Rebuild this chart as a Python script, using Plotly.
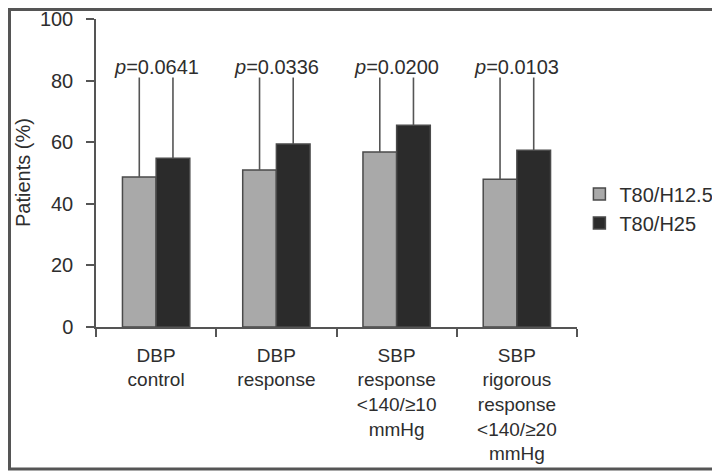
import plotly.graph_objects as go

categories = ["DBP<br>control", "DBP<br>response", "SBP<br>response<br>&lt;140/≥10<br>mmHg",
              "SBP<br>rigorous<br>response<br>&lt;140/≥20<br>mmHg"]
series_names = ["T80/H12.5", "T80/H25"]
t80_h125 = [48.7, 51.0, 56.8, 48.0]
t80_h25 = [54.8, 59.4, 65.5, 57.4]
upper_h125 = [81.0, 81.0, 81.0, 81.0]
upper_h25 = [81.0, 81.0, 81.0, 81.0]
p_values = ["0.0641", "0.0336", "0.0200", "0.0103"]
p_label_y = [84.5, 84.5, 84.5, 84.5]
y_ticks = [0, 20, 40, 60, 80, 100]
y_title = "Patients (%)"

FONT = "Liberation Sans, Arial, Helvetica, sans-serif"
TXT = "#2e2e2e"

fig = go.Figure()
for name, vals, upper, fill in [(series_names[0], t80_h125, upper_h125, "#a9a9a9"),
                                (series_names[1], t80_h25, upper_h25, "#2b2b2b")]:
    fig.add_trace(go.Bar(
        x=categories, y=vals, name=name,
        marker=dict(color=fill, line=dict(color="#4a4a4a", width=1.5)),
        error_y=dict(type="data", symmetric=False,
                     array=[u - v for u, v in zip(upper, vals)],
                     arrayminus=[0] * len(vals),
                     color="#555555", thickness=1.6, width=0),
    ))

for c, p, py in zip(categories, p_values, p_label_y):
    fig.add_annotation(x=c, y=py, xref="x", yref="y", text=f"<i>p</i>=" + p,
                       showarrow=False, yanchor="middle",
                       font=dict(family=FONT, size=20, color=TXT))

# the page body adds an 8px offset, so the figure is sized to the remaining area
W, H = 712, 464
L, R, T, B = 88, 143, 11, 145
PW, PH = W - L - R, H - T - B

fig.add_annotation(x=-(L - 15) / PW, y=0.5, xref="paper", yref="paper",
                   text=y_title, textangle=-90, showarrow=False,
                   xanchor="center", yanchor="middle",
                   font=dict(family=FONT, size=20, color=TXT))

fig.add_shape(type="rect", xref="paper", yref="paper",
              x0=-(L - 1.5) / PW, x1=1 + (R - 2.5) / PW,
              y0=-(B - 3.0) / PH, y1=1 + (T - 1.5) / PH,
              line=dict(color="#555555", width=3), layer="above")

fig.update_layout(
    width=W, height=H,
    margin=dict(l=L, r=R, t=T, b=B, pad=0, autoexpand=False),
    paper_bgcolor="white", plot_bgcolor="white",
    barmode="group", bargap=0.44, bargroupgap=0,
    font=dict(family=FONT, size=20, color=TXT),
    showlegend=True,
    legend=dict(x=1 + 2.4 / PW, y=0.385, xanchor="left", yanchor="middle", xref="paper",
                font=dict(family=FONT, size=20, color=TXT),
                tracegroupgap=0, itemwidth=30, bgcolor="rgba(0,0,0,0)"),
    xaxis=dict(showline=True, linecolor="#555555", linewidth=1.5, automargin=False,
               ticks="outside", ticklen=8, tickcolor="#555555", tickwidth=1.5,
               tickson="boundaries", showgrid=False, zeroline=False,
               ticklabelstandoff=10, ticklabeloverflow="allow",
               tickfont=dict(family=FONT, size=19, color=TXT)),
    yaxis=dict(range=[0, 100], tickvals=y_ticks, showline=True, linecolor="#555555",
               linewidth=1.5, ticks="outside", ticklen=8, tickcolor="#555555",
               tickwidth=1.5, showgrid=False, zeroline=False, automargin=False,
               ticklabelstandoff=9, ticklabeloverflow="allow",
               tickfont=dict(family=FONT, size=20, color=TXT)),
)

fig.write_html("out.html")
